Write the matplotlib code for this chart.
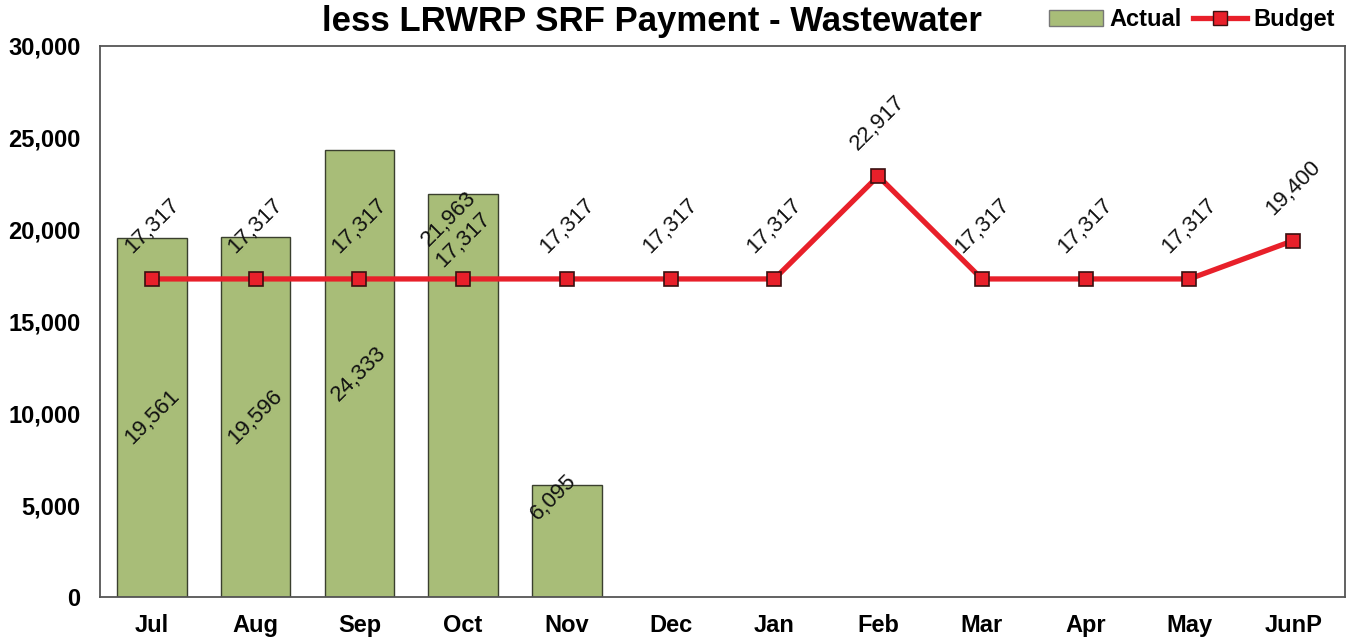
import matplotlib
matplotlib.use("Agg")
import matplotlib.pyplot as plt
from matplotlib.patches import Patch
from matplotlib.lines import Line2D
from matplotlib.ticker import FuncFormatter

plt.rcParams['font.family'] = ['Liberation Sans', 'DejaVu Sans']

months = ["Jul", "Aug", "Sep", "Oct", "Nov", "Dec", "Jan", "Feb", "Mar", "Apr", "May", "JunP"]
actual = [19561, 19596, 24333, 21963, 6095]
budget = [17317, 17317, 17317, 17317, 17317, 17317, 17317, 22917, 17317, 17317, 17317, 19400]
title = "less LRWRP SRF Payment - Wastewater"

bar_color = "#a8bd78"
bar_edge = "#3a3f2e"
line_color = "#e8202a"

fig = plt.figure(figsize=(13.51, 6.41), dpi=100)
ax = fig.add_axes([100/1351, 1 - 597/641, 1245/1351, (597-46)/641])

x_act = list(range(len(actual)))
x_bud = list(range(len(budget)))

ax.bar(x_act, actual, width=0.67, color=bar_color, edgecolor=bar_edge, linewidth=1.0, zorder=2)
ax.plot(x_bud, budget, color=line_color, linewidth=3.8, marker="s", markersize=10,
        markerfacecolor=line_color, markeredgecolor="#3a1010", markeredgewidth=1.2, zorder=3)

# actual labels (inside bars)
act_label_y = [actual[0] / 2, actual[1] / 2, actual[2] / 2, 20600, 5400]
act_label_dx = [0, 0, 0, -0.14, -0.13]
for i, v in enumerate(actual):
    ax.text(x_act[i] + act_label_dx[i], act_label_y[i], f"{v:,}", rotation=45,
            ha="center", va="center", fontsize=16, color="#111111", zorder=4)

# budget labels (above markers)
for i, v in enumerate(budget):
    dy = 28 if i == 3 else 38
    ax.annotate(f"{v:,}", (x_bud[i], v), xytext=(0, dy), textcoords="offset points",
                rotation=45, ha="center", va="center", fontsize=16, color="#111111", zorder=4)

ax.set_xlim(-0.5, len(months) - 0.5)
ax.set_ylim(0, 30000)
ax.set_yticks(range(0, 30001, 5000))
ax.yaxis.set_major_formatter(FuncFormatter(lambda v, p: f"{int(v):,}"))
ax.set_xticks(x_bud)
ax.set_xticklabels(months)
ax.tick_params(axis="both", length=0, labelsize=17)
ax.tick_params(axis="x", pad=12)
ax.tick_params(axis="y", pad=14)
for lab in ax.get_xticklabels() + ax.get_yticklabels():
    lab.set_fontweight("bold")
for s in ax.spines.values():
    s.set_color("#555555")
    s.set_linewidth(1.3)

fig.text(652/1351, 1 - 22/641, title, ha="center", va="center", fontsize=25, fontweight="bold")

handles = [Patch(facecolor=bar_color, edgecolor="#777777", label="Actual"),
           Line2D([0], [0], color=line_color, linewidth=3.8, marker="s", markersize=10,
                  markerfacecolor=line_color, markeredgecolor="#3a1010", label="Budget")]
leg = fig.legend(handles=handles, loc="upper right", bbox_to_anchor=(1356/1351, 1.0 + 13/641), ncol=2,
                 frameon=False, handlelength=2.3, handletextpad=0.25, columnspacing=0.5,
                 prop={"weight": "bold", "size": 17})

fig.savefig("out.png", dpi=100, facecolor="white")
